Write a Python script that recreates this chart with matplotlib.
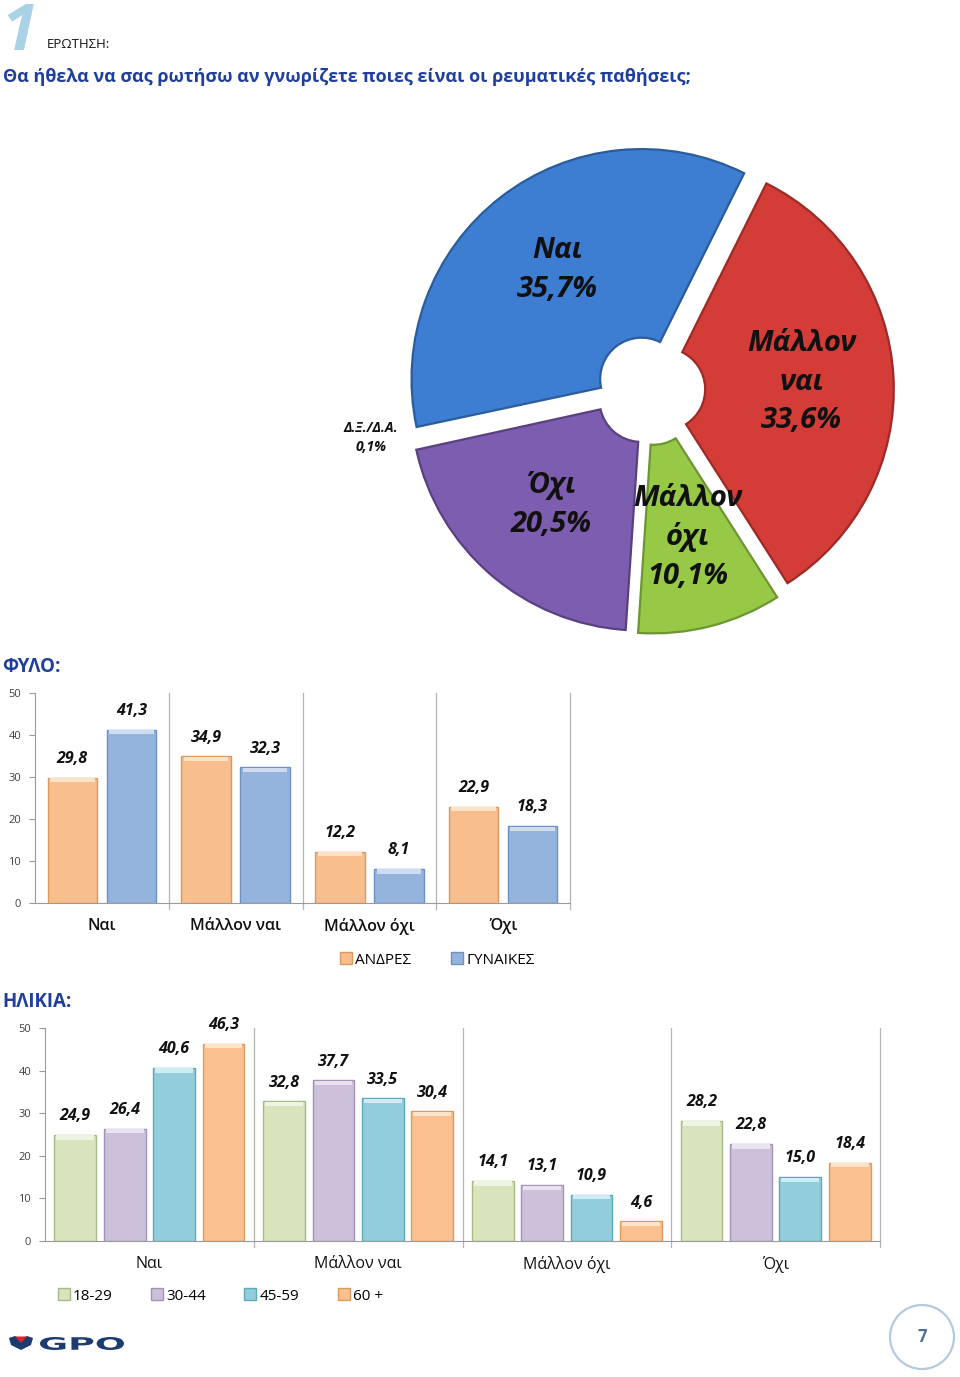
import matplotlib
matplotlib.use('Agg')
import matplotlib.pyplot as plt
import numpy as np
from matplotlib.lines import Line2D
from matplotlib.patches import Circle, Polygon, PathPatch
from matplotlib.textpath import TextPath
from matplotlib.font_manager import FontProperties
from matplotlib.transforms import Affine2D

FONT = ['Open Sans', 'DejaVu Sans']
plt.rcParams['font.family'] = FONT

# ---------------- data ----------------
pie_labels = ['Ναι', 'Δ.Ξ./Δ.Α.', 'Όχι', 'Μάλλον\nόχι', 'Μάλλον\nναι']
pie_values = [35.7, 0.1, 20.5, 10.1, 33.6]

categories = ['Ναι', 'Μάλλον ναι', 'Μάλλον όχι', 'Όχι']
gender_series = ['ΑΝΔΡΕΣ', 'ΓΥΝΑΙΚΕΣ']
men = [29.8, 34.9, 12.2, 22.9]
women = [41.3, 32.3, 8.1, 18.3]

age_series = ['18-29', '30-44', '45-59', '60 +']
age_18_29 = [24.9, 32.8, 14.1, 28.2]
age_30_44 = [26.4, 37.7, 13.1, 22.8]
age_45_59 = [40.6, 33.5, 10.9, 15.0]
age_60 = [46.3, 30.4, 4.6, 18.4]

yticks = [0, 10, 20, 30, 40, 50]

# ---------------- styling ----------------
W, H = 960, 1377
BLUE_T = '#1f3f9c'
pie_colors = ['#3e7ed2', 'none', '#7d5db0', '#97c947', '#d43c37']
pie_edges = ['#2b5c9c', 'none', '#59407f', '#6e9530', '#9c2a27']

fig = plt.figure(figsize=(W / 100, H / 100), dpi=100)


def px_rect(x0, y0, x1, y1):
    return [x0 / W, 1 - y1 / H, (x1 - x0) / W, (y1 - y0) / H]


deco = fig.add_axes([0, 0, 1, 1], zorder=0)
deco.set_xlim(0, W)
deco.set_ylim(H, 0)
deco.axis('off')

# header
deco.text(1, 50, '1', fontsize=47, fontweight='bold', style='italic',
          color='#a9d2e6', ha='left', va='baseline')
deco.text(47, 45, 'ΕΡΩΤΗΣΗ:', fontsize=9.5, color='#111111', ha='left', va='center')
deco.text(3, 77, 'Θα ήθελα να σας ρωτήσω αν γνωρίζετε ποιες είναι οι ρευματικές παθήσεις;',
          fontsize=13.0, fontweight='bold', color=BLUE_T, ha='left', va='center')

deco.text(2, 667, 'ΦΥΛΟ:', fontsize=13.5, fontweight='bold', color=BLUE_T, ha='left', va='center')
deco.text(2, 1002, 'ΗΛΙΚΙΑ:', fontsize=13.5, fontweight='bold', color=BLUE_T, ha='left', va='center')

# ---------------- pie (donut) ----------------
axp = fig.add_axes(px_rect(374, 114, 926, 666), zorder=2)
wedges, _ = axp.pie(pie_values, startangle=63.5, counterclock=True, colors=pie_colors,
                    explode=[0.06] * len(pie_values), radius=1,
                    wedgeprops=dict(width=0.82, linewidth=1.6))
for w, ec in zip(wedges, pie_edges):
    w.set_edgecolor(ec)
axp.set_xlim(-1.2, 1.2)
axp.set_ylim(-1.2, 1.2)
axp.set_aspect('equal')
axp.axis('off')

for w, lab, val in zip(wedges, pie_labels, pie_values):
    mid = np.deg2rad((w.theta1 + w.theta2) / 2)
    cx, cy = w.center
    pct = f"{val:.1f}%".replace('.', ',')
    if val < 1:
        ang = np.deg2rad(189.5)
        axp.text(cx + 1.17 * np.cos(ang), cy + 1.17 * np.sin(ang), lab + '\n' + pct,
                 fontsize=10, fontweight='bold', style='italic', ha='center', va='center',
                 linespacing=1.45, color='#111111')
    else:
        axp.text(cx + 0.6 * np.cos(mid), cy + 0.6 * np.sin(mid), lab + '\n' + pct,
                 fontsize=21, fontweight='bold', style='italic', ha='center', va='center',
                 linespacing=1.42, color='#111111')


def fmt(v):
    return f"{v:.1f}".replace('.', ',')


def bar_chart(rect, series, fills, tops, edges, offsets, width, catweight, px_per_unit):
    ax = fig.add_axes(rect, zorder=2)
    x = np.arange(len(categories))
    for vals, off, c, tc, ec in zip(series, offsets, fills, tops, edges):
        vals = np.array(vals)
        ax.bar(x + off, vals, width, color=c, edgecolor=ec, linewidth=1.0, zorder=3)
        cap = np.minimum(1.0, vals)
        ax.bar(x + off, cap, width * 0.9, bottom=vals - cap * 1.1, color=tc, edgecolor='none',
               linewidth=0, zorder=4)
        for xi, v in zip(x + off, vals):
            ax.annotate(fmt(v), (xi, v), xytext=(0, 13.5), textcoords='offset points',
                        ha='center', va='center', fontsize=11.5, fontweight='bold',
                        style='italic', color='#111111', zorder=5)
    ax.set_xlim(-0.5, len(categories) - 0.5)
    ax.set_ylim(0, 50)
    ax.set_yticks(yticks)
    ax.tick_params(axis='y', labelsize=8, labelcolor='#404040', length=4, color='#9a9a9a', pad=6)
    ax.set_xticks(x)
    ax.set_xticklabels(categories, fontsize=11.5, fontweight=catweight, color='#111111')
    ax.tick_params(axis='x', length=0, pad=11)
    for s in ['top', 'right']:
        ax.spines[s].set_visible(False)
    ax.spines['left'].set_color('#9a9a9a')
    ax.spines['bottom'].set_color('#9a9a9a')
    ext = 6 / px_per_unit
    for b in np.arange(len(categories)) + 0.5:
        ax.plot([b, b], [-ext, 50], color='#b5b5b5', lw=0.9, clip_on=False, zorder=1)
    ax.patch.set_alpha(0)
    return ax


# ---------------- gender chart ----------------
g_fills = ['#f9be8e', '#94b4dd']
g_tops = ['#fde3c6', '#cddcf0']
g_edges = ['#d9995f', '#6f91bf']
bar_chart(px_rect(35, 693, 570, 903), [men, women], g_fills, g_tops, g_edges,
          [-0.22, 0.22], 0.37, 'semibold', 210 / 50)

handles = [Line2D([], [], marker='s', linestyle='none', markersize=8,
                  markerfacecolor=f, markeredgecolor=e) for f, e in zip(g_fills, g_edges)]
fig.legend(handles, gender_series, loc='center', bbox_to_anchor=(437 / W, 1 - 960 / H),
           ncol=2, frameon=False, fontsize=11, handletextpad=0.2, handlelength=0.8,
           columnspacing=2.6)

# ---------------- age chart ----------------
a_fills = ['#d7e4bc', '#ccc0da', '#92cddc', '#fac08f']
a_tops = ['#eef4e2', '#e9e3f0', '#cfebf3', '#fde3c9']
a_edges = ['#a8b98a', '#a293b5', '#5fa8bc', '#dc9a5e']
bar_chart(px_rect(45, 1028, 880, 1241), [age_18_29, age_30_44, age_45_59, age_60],
          a_fills, a_tops, a_edges, [-0.355, -0.118, 0.118, 0.355], 0.2, 'normal', 213 / 50)

handles = [Line2D([], [], marker='s', linestyle='none', markersize=8,
                  markerfacecolor=f, markeredgecolor=e) for f, e in zip(a_fills, a_edges)]
fig.legend(handles, age_series, loc='center left', bbox_to_anchor=(44 / W, 1 - 1296 / H),
           ncol=4, frameon=False, fontsize=11, handletextpad=0.2, handlelength=0.8,
           columnspacing=2.5)

# ---------------- footer ----------------
deco.add_patch(Polygon([[9, 1338], [15, 1336], [21, 1339], [27, 1336], [33, 1338],
                        [31, 1345], [21, 1350], [11, 1345]],
                       closed=True, facecolor='#1c3b6f', edgecolor='none'))
deco.add_patch(Polygon([[15, 1336.5], [27, 1336.5], [21, 1343]], closed=True,
                       facecolor='#e0242c', edgecolor='none'))
fp = FontProperties(family='DejaVu Sans', weight='bold')
tp = TextPath((0, 0), 'GPO', size=1, prop=fp)
bb = tp.get_extents()
tr = Affine2D().translate(-bb.x0, -bb.y0).scale((124 - 40) / bb.width, -(1350 - 1337) / bb.height).translate(40, 1350)
deco.add_patch(PathPatch(tr.transform_path(tp), facecolor='#1c3b6f', edgecolor='none'))

deco.add_patch(Circle((922, 1337), 32, facecolor='none', edgecolor='#b4cade', lw=1.6))
deco.text(922, 1337, '7', fontsize=12, fontweight='bold', color='#4f6f9c', ha='center', va='center')

fig.savefig('out.png', dpi=100)
